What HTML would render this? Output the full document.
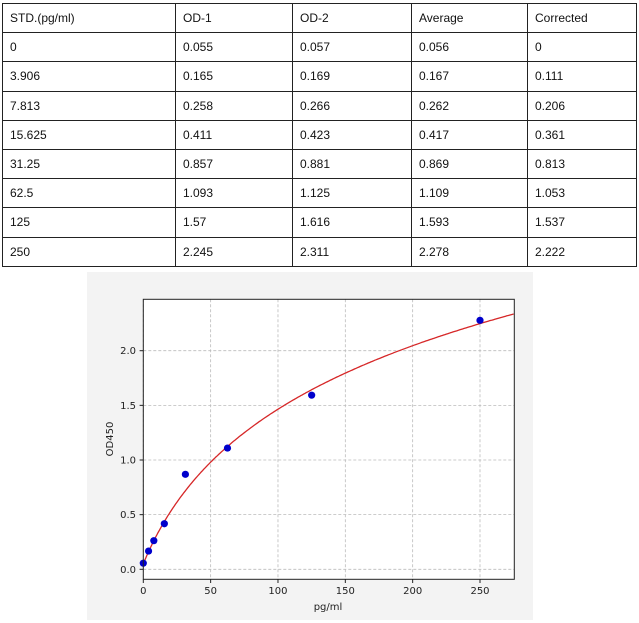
<!DOCTYPE html>
<html><head><meta charset="utf-8"><style>
body{margin:0;background:#fff;width:639px;height:623px;position:relative;overflow:hidden;font-family:"Liberation Sans",sans-serif}
table{position:absolute;left:2px;top:3px;border-collapse:collapse;font-size:12px;color:#111}
td{border:1px solid #222;height:29.2px;padding:0 0 0 7px;box-sizing:border-box;vertical-align:middle}
</style></head><body>
<table>
<colgroup><col style="width:173px"><col style="width:117px"><col style="width:119px"><col style="width:116px"><col style="width:109px"></colgroup>
<tr><td>STD.(pg/ml)</td><td>OD-1</td><td>OD-2</td><td>Average</td><td>Corrected</td></tr>
<tr><td>0</td><td>0.055</td><td>0.057</td><td>0.056</td><td>0</td></tr>
<tr><td>3.906</td><td>0.165</td><td>0.169</td><td>0.167</td><td>0.111</td></tr>
<tr><td>7.813</td><td>0.258</td><td>0.266</td><td>0.262</td><td>0.206</td></tr>
<tr><td>15.625</td><td>0.411</td><td>0.423</td><td>0.417</td><td>0.361</td></tr>
<tr><td>31.25</td><td>0.857</td><td>0.881</td><td>0.869</td><td>0.813</td></tr>
<tr><td>62.5</td><td>1.093</td><td>1.125</td><td>1.109</td><td>1.053</td></tr>
<tr><td>125</td><td>1.57</td><td>1.616</td><td>1.593</td><td>1.537</td></tr>
<tr><td>250</td><td>2.245</td><td>2.311</td><td>2.278</td><td>2.222</td></tr>
</table>
<svg id="c" width="639" height="623" style="position:absolute;left:0;top:0" xmlns="http://www.w3.org/2000/svg" font-family="DejaVu Sans, sans-serif" font-size="10" fill="#222">
<rect x="87" y="272" width="446" height="348" fill="#f3f3f3"/>
<rect x="143.3" y="299.3" width="371" height="280" fill="#fff"/>
<g id="g"></g>
<rect x="143.3" y="299.3" width="371" height="280" fill="none" stroke="#222" stroke-width="1"/>
<text x="328" y="610" text-anchor="middle">pg/ml</text>
<text transform="translate(113,439) rotate(-90)" text-anchor="middle">OD450</text>
</svg>
<script>
var g=document.getElementById('g'),s='';
function X(v){return 143.3+v*1.3468}function Y(v){return 569.3-v*109.3}
[0,50,100,150,200,250].forEach(function(v){var x=X(v);
s+='<line x1="'+x+'" y1="299.3" x2="'+x+'" y2="579.3" stroke="#bbb" stroke-dasharray="3,2" stroke-width="0.8"/>';
s+='<line x1="'+x+'" y1="579.3" x2="'+x+'" y2="583" stroke="#222"/>';
s+='<text x="'+x+'" y="594" text-anchor="middle">'+v+'</text>';});
[0,0.5,1,1.5,2].forEach(function(v){var y=Y(v);
s+='<line x1="143.3" y1="'+y+'" x2="514.3" y2="'+y+'" stroke="#bbb" stroke-dasharray="3,2" stroke-width="0.8"/>';
s+='<line x1="139.6" y1="'+y+'" x2="143.3" y2="'+y+'" stroke="#222"/>';
s+='<text x="136" y="'+(y+3.5)+'" text-anchor="end">'+v.toFixed(1)+'</text>';});
var d='';for(var i=0;i<=275;i+=1){var yv=0.05+1.048*Math.log(1+i/35);d+=(i?'L':'M')+X(i).toFixed(1)+','+Y(yv).toFixed(1);}
s+='<path d="'+d+'" fill="none" stroke="#d62728" stroke-width="1.3"/>';
[[0,0.056],[3.906,0.167],[7.813,0.262],[15.625,0.417],[31.25,0.869],[62.5,1.109],[125,1.593],[250,2.278]].forEach(function(p){
s+='<circle cx="'+X(p[0])+'" cy="'+Y(p[1])+'" r="3.6" fill="#0000cc"/>';});
g.innerHTML=s;
</script>
</body></html>
